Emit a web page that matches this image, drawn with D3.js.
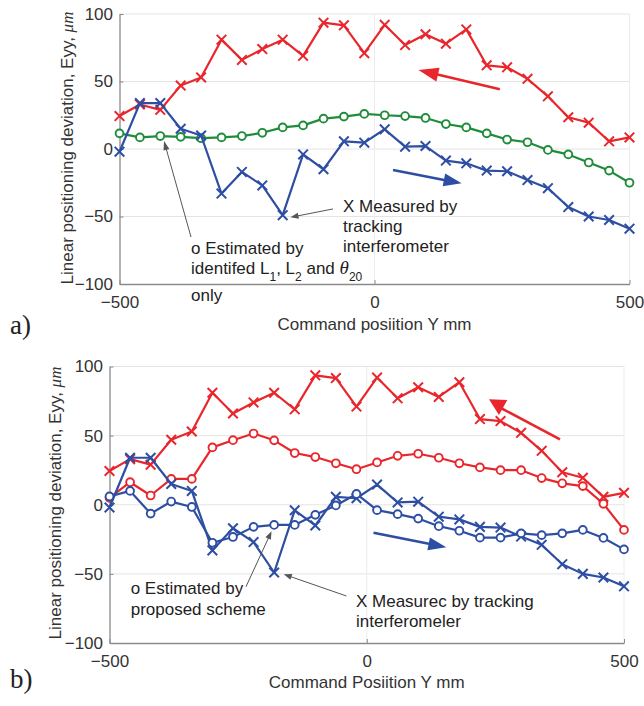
<!DOCTYPE html>
<html><head><meta charset="utf-8">
<script src="https://cdn.jsdelivr.net/npm/d3@7"></script>
<style>body{margin:0;background:#fff}svg{display:block}</style>
</head><body>
<svg id="c" width="644" height="706"></svg>
<script>
// ---------- data ----------
const positions = [-500,-460,-420,-380,-340,-300,-260,-220,-180,-140,-100,-60,-20,20,60,100,140,180,220,260,300,340,380,420,460,500];
const measuredReverse = [24.4,33,29,47,53,81,66,74,81,69,93.6,91.6,71,92,77,85,78,88.6,62,60.5,52,39,23.5,19.5,5.7,8.6];
const measuredForward = [-2,34,34,15,10,-33,-17,-27,-49,-4,-15,5.7,4.7,14.6,1.7,2.2,-8.6,-10.6,-16,-16.5,-23,-29,-43,-50,-52.6,-59];
const estimatedIdentified = [11.6,8.6,9.6,9,8,8.6,9.6,12,16,17.5,22.5,24,26,25,24.4,23,18.5,16,11.6,7,5,-0.7,-4,-10,-16,-25];
const estimatedReverse = [5,16.3,6.7,18.7,18.7,41.5,46.7,51.5,46.6,37.4,34.5,30,25.7,30.6,35.4,36.9,34,30,27,25,25,19.3,15.5,13.5,0.7,-18.2];
const estimatedForward = [6,10,-6.4,2.3,-1.6,-27.5,-23.3,-16,-14.6,-14.6,-7.3,-0.5,7.8,-3.9,-6.8,-10,-15.5,-18.8,-23.8,-23.8,-20.7,-22,-20.7,-18.2,-24,-32.3];
const xTicks = [-500,0,500];
const yTicks = [-100,-50,0,50,100];
const xDomain = [-500,500];
const yDomain = [-100,100];

const RED = "#e8262c", BLUE = "#2d4ea3", GREEN = "#1f8c3b";
const FONT = "'Liberation Sans', Arial, sans-serif";
const svg = d3.select("#c");

function panel(cfg){
  const x = d3.scaleLinear().domain(xDomain).range(cfg.xr);
  const y = d3.scaleLinear().domain(yDomain).range(cfg.yr);
  const g = svg.append("g");
  g.selectAll(".hg").data(yTicks.slice(1)).join("line")
    .attr("x1", x(-500)).attr("x2", x(500)).attr("y1", d=>y(d)).attr("y2", d=>y(d))
    .attr("stroke", "#e4e4e4").attr("stroke-width", 1);
  g.selectAll(".vg").data(xTicks.slice(1)).join("line")
    .attr("y1", y(-100)).attr("y2", y(100)).attr("x1", d=>x(d)).attr("x2", d=>x(d))
    .attr("stroke", "#ececec").attr("stroke-width", 1);
  const ax = g.append("g").attr("transform", `translate(0,${y(-100)})`)
    .call(d3.axisBottom(x).tickValues(xTicks).tickSizeInner(-4).tickSizeOuter(0).tickPadding(12).tickFormat(d3.format("d")));
  const ay = g.append("g").attr("transform", `translate(${x(-500)},0)`)
    .call(d3.axisLeft(y).tickValues(yTicks).tickSizeInner(-4).tickSizeOuter(0).tickPadding(6.5).tickFormat(d3.format("d")));
  [ax, ay].forEach(a=>{
    a.select(".domain").attr("stroke", "#8a8a8a").attr("stroke-width", 1.3);
    a.selectAll(".tick line").attr("stroke", "#8a8a8a");
    a.selectAll(".tick text").attr("font-family", FONT).attr("font-size", 17).attr("fill", "#333");
  });
  g.append("text").attr("x", (x(-500)+x(500))/2).attr("y", cfg.xlabY)
    .attr("text-anchor","middle").attr("font-family",FONT).attr("font-size",17).attr("fill","#333").text(cfg.xlabel);
  const yl = g.append("text").attr("transform", `translate(${cfg.ylabX},${cfg.ylabCY}) rotate(-90)`)
    .attr("text-anchor","middle").attr("font-family",FONT).attr("font-size",17).attr("fill","#333");
  yl.append("tspan").text("Linear positioning deviation, Eyy,  ");
  yl.append("tspan").attr("font-family","'Liberation Serif', serif").attr("font-style","italic").text("μm");
  g.append("text").attr("x", 10).attr("y", cfg.letterY).attr("font-family","'Liberation Serif', 'DejaVu Serif', serif")
    .attr("font-size", 27).attr("fill","#222").text(cfg.letter);
  return {x, y, g};
}

function series(p, vals, color, marker){
  const pts = positions.map((d,i)=>[d, vals[i]]);
  p.g.append("path").datum(pts)
    .attr("d", d3.line().x(d=>p.x(d[0])).y(d=>p.y(d[1])))
    .attr("fill","none").attr("stroke",color).attr("stroke-width",2.2).attr("stroke-linejoin","round");
  if(marker === "x"){
    const s = 4.8;
    p.g.selectAll(null).data(pts).join("path")
      .attr("d", d=>{const cx=p.x(d[0]), cy=p.y(d[1]);
        return `M${cx-s},${cy-s}L${cx+s},${cy+s}M${cx-s},${cy+s}L${cx+s},${cy-s}`;})
      .attr("stroke",color).attr("stroke-width",2).attr("fill","none");
  } else {
    p.g.selectAll(null).data(pts).join("circle")
      .attr("cx", d=>p.x(d[0])).attr("cy", d=>p.y(d[1])).attr("r", 3.9)
      .attr("fill","#fff").attr("stroke",color).attr("stroke-width",1.9);
  }
}

function arrow(p, from, to, color, width, headLen, headW){
  const x1=p.x(from[0]), y1=p.y(from[1]), x2=p.x(to[0]), y2=p.y(to[1]);
  const a = Math.atan2(y2-y1, x2-x1);
  const bx = x2 - headLen*Math.cos(a), by = y2 - headLen*Math.sin(a);
  p.g.append("line").attr("x1",x1).attr("y1",y1).attr("x2",bx+(headLen*0.3)*Math.cos(a)).attr("y2",by+(headLen*0.3)*Math.sin(a))
    .attr("stroke",color).attr("stroke-width",width);
  const nx = -Math.sin(a)*headW/2, ny = Math.cos(a)*headW/2;
  p.g.append("path").attr("d",`M${x2},${y2}L${bx+nx},${by+ny}L${bx-nx},${by-ny}Z`).attr("fill",color);
}

function textLines(p, at, lines, dys){
  const x0 = p.x(at[0]), y0 = p.y(at[1]);
  lines.forEach((ln,i)=>{
    const t = p.g.append("text").attr("x",x0).attr("y",y0+dys[i])
      .attr("font-family",FONT).attr("font-size",17).attr("fill","#222");
    ln.forEach(seg=>{
      const ts = t.append("tspan").text(seg.t);
      if(seg.sub){ ts.attr("font-size",12).attr("dy",7); }
      if(seg.up){ ts.attr("dy",-7); }
      if(seg.it){ ts.attr("font-family","'Liberation Serif', serif").attr("font-style","italic").attr("font-size",19); }
    });
  });
}

// ---------- panel a ----------
const A = panel({xr:[119.5,629.5], yr:[284,14], xlabel:"Command posiition Y mm", xlabY:330,
  ylabX:73, ylabCY:148, letter:"a)", letterY:334});
series(A, measuredReverse, RED, "x");
series(A, estimatedIdentified, GREEN, "o");
series(A, measuredForward, BLUE, "x");
arrow(A, [245.7,44.2], [86.3,58.5], RED, 2.6, 20, 14);
arrow(A, [36.3,-15.6], [170.8,-25.4], BLUE, 2.6, 18, 13);
arrow(A, [-81.4,-44.4], [-164.7,-50.6], "#555", 1, 8, 6);
arrow(A, [-359.8,-65.2], [-412.7,5.9], "#555", 1, 9, 6);
textLines(A, [-61.8,-46.7], [[{t:"X Measured by"}],[{t:"tracking"}],[{t:"interferometer"}]], [0,20,40]);
textLines(A, [-359.8,-77.8], [
  [{t:"o Estimated by"}],
  [{t:"identifed L"},{t:"1",sub:true},{t:", L",up:true},{t:"2",sub:true},{t:" and ",up:true},{t:"θ",it:true},{t:"20",sub:true}],
  [{t:"only"}]], [0,20,47]);

// ---------- panel b ----------
const B = panel({xr:[109.5,624], yr:[643,366.5], xlabel:"Command Posiition Y mm", xlabY:688,
  ylabX:61, ylabCY:503, letter:"b)", letterY:688});
series(B, measuredReverse, RED, "x");
series(B, estimatedReverse, RED, "o");
series(B, measuredForward, BLUE, "x");
series(B, estimatedForward, BLUE, "o");
B.g.append("line").attr("x1",B.x(375.6)).attr("y1",B.y(47.3)).attr("x2",B.x(257)).attr("y2",B.y(70.7))
  .attr("stroke",RED).attr("stroke-width",2.6);
B.g.append("path").attr("d", d3.line()([[B.x(237.6),B.y(76.3)],[B.x(273.2),B.y(75.8)],[B.x(257),B.y(65)]]) + "Z")
  .attr("fill",RED);
arrow(B, [13.1,-20.2], [154.6,-30.8], BLUE, 2.6, 18, 13);
arrow(B, [-234.7,-59.3], [-185.1,-19.2], "#555", 1, 8, 6);
arrow(B, [-39.6,-66], [-161.2,-50.3], "#555", 1, 8, 6);
textLines(B, [-458.8,-64.6], [[{t:"o Estimated by"}],[{t:"proposed scheme"}]], [0,21]);
textLines(B, [-20.9,-73.7], [[{t:"X Measurec by tracking"}],[{t:"interferomeler"}]], [0,20]);
</script>
</body></html>
